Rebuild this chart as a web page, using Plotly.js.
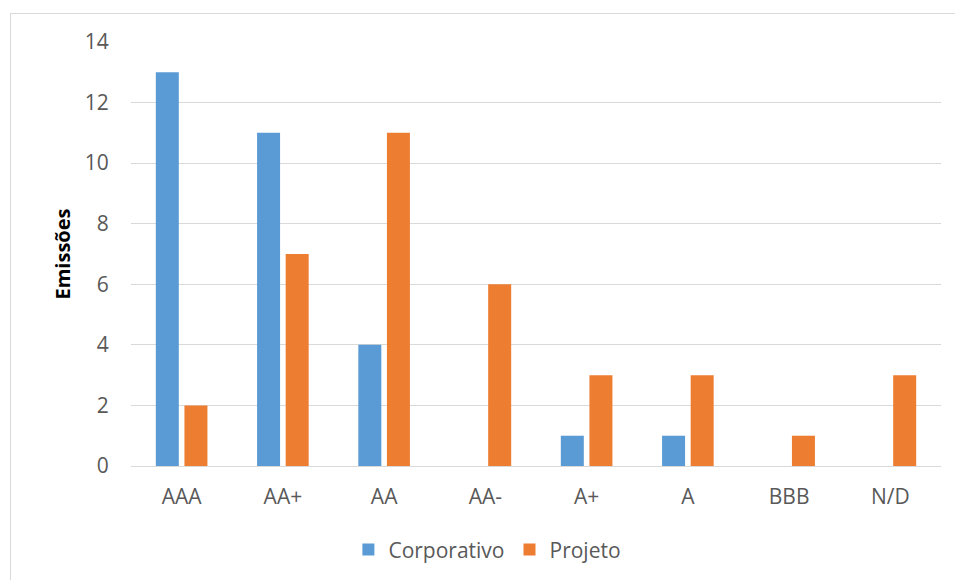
<!DOCTYPE html>
<html>
<head>
<meta charset="utf-8">
<script src="https://cdn.plot.ly/plotly-3.0.1.min.js"></script>
<style>
  html, body { margin: 0; padding: 0; background: #fff; }
  #wrap { position: relative; width: 955px; height: 580px; overflow: hidden; }
  #frame { position: absolute; left: 10px; top: 13px; width: 960px; height: 600px; border: 1px solid #D9D9D9; box-sizing: border-box; }
  #chart { position: absolute; left: 0; top: 0; width: 955px; height: 580px; }
</style>
</head>
<body>
<div id="wrap">
  <div id="frame"></div>
  <div id="chart"></div>
</div>
<script>
const categories = ["AAA", "AA+", "AA", "AA-", "A+", "A", "BBB", "N/D"];
const corporativo = [13, 11, 4, 0, 1, 1, 0, 0];
const projeto = [2, 7, 11, 6, 3, 3, 1, 3];
const yTicks = [0, 2, 4, 6, 8, 10, 12, 14];

const FAM = "'Open Sans', sans-serif";
const tickFont = { family: FAM, size: 21, color: "#595959" };

const data = [
  { type: "bar", name: "Corporativo", x: categories, y: corporativo,
    marker: { color: "#5B9BD5" } },
  { type: "bar", name: "Projeto", x: categories, y: projeto,
    marker: { color: "#ED7D31" } }
];

const layout = {
  width: 955, height: 580,
  paper_bgcolor: "rgba(0,0,0,0)", plot_bgcolor: "rgba(0,0,0,0)",
  margin: { l: 131, r: 14, t: 42, b: 114, pad: 0, autoexpand: false },
  barmode: "group", bargap: 0.435, bargroupgap: 0.196,
  font: tickFont,
  xaxis: {
    type: "category", showgrid: false, zeroline: false,
    showline: true, linecolor: "#D9D9D9", linewidth: 1,
    ticks: "outside", ticklen: 12, tickcolor: "rgba(0,0,0,0)",
    tickfont: tickFont, fixedrange: true
  },
  yaxis: {
    range: [0, 14], tickvals: yTicks, ticktext: yTicks.map(String),
    showgrid: true, gridcolor: "#D9D9D9", gridwidth: 1,
    zeroline: true, zerolinecolor: "#D9D9D9", zerolinewidth: 1,
    showline: false,
    ticks: "outside", ticklen: 17, tickcolor: "rgba(0,0,0,0)",
    tickfont: tickFont,
    title: { text: "Emissões", font: { family: FAM, size: 20, color: "#000", weight: "bold" }, standoff: 8 },
    fixedrange: true
  },
  legend: {
    orientation: "h", x: 0.44, xanchor: "center", y: -0.198, yanchor: "middle",
    font: { family: FAM, size: 21, color: "#595959" },
    itemwidth: 30, traceorder: "normal"
  },
  showlegend: true
};

Plotly.newPlot("chart", data, layout, { displayModeBar: false, staticPlot: true });
</script>
</body>
</html>
